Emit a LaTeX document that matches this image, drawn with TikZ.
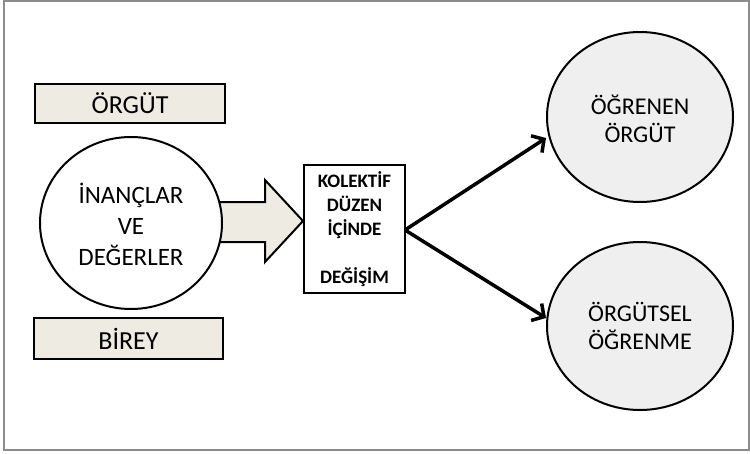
\documentclass[tikz,border=0pt]{standalone}
\usepackage{fontspec}
\setmainfont{Carlito}
\usetikzlibrary{shapes.geometric,arrows.meta}
\definecolor{beige}{HTML}{EEEBE3}
\definecolor{lightgray}{HTML}{EFEFEF}
\definecolor{framegray}{HTML}{8C8C8C}
\begin{document}
\begin{tikzpicture}[x=1pt,y=-1pt,
  labelbox/.style={draw=black,line width=2pt,fill=beige,inner sep=0pt,
    font=\fontsize{26}{30}\selectfont},
  bigtext/.style={align=center,font=\fontsize{24}{28}\selectfont},
  roundnode/.style={ellipse,draw=black,line width=2pt,inner sep=0pt},
  flow/.style={line width=3.5pt,-{Straight Barb[length=9pt,width=20pt]}}]
\useasboundingbox (0,0) rectangle (750,453);
% outer frame
\draw[framegray,line width=1.5pt] (4,1) rectangle (749,450);

% wide block arrow into the centre box
\draw[line width=2pt,fill=beige,line join=miter]
  (212,202) -- (265,202) -- (265,180) -- (303,221) -- (265,262) -- (265,242) -- (212,242) -- cycle;

% left side
\node[labelbox,minimum width=190pt,minimum height=39pt] (org) at (130,103.5) {ÖRGÜT};
\node[roundnode,fill=white,minimum width=182pt,minimum height=172pt] (values) at (131,223) {};
\node[align=center,font=\fontsize{25}{31}\selectfont] (valuestext) at (131,224) {İNANÇLAR\\VE\\DEĞERLER};
\node[labelbox,minimum width=189pt,minimum height=41pt] (ind) at (128.5,338.5) {BİREY};

% centre box
\node[draw=black,line width=2pt,fill=white,minimum width=101pt,minimum height=128pt,inner sep=0pt] (change) at (354.5,229) {};
\node[align=center,font=\fontsize{19}{24}\selectfont\bfseries] (changetext) at (354.5,229.5)
  {KOLEKTİF\\DÜZEN\\İÇİNDE\\[24pt]DEĞİŞİM};

% right side
\node[roundnode,fill=lightgray,minimum width=186pt,minimum height=170pt] (lo) at (640,117) {};
\node[bigtext] (lotext) at (640,119) {ÖĞRENEN\\ÖRGÜT};
\node[roundnode,fill=lightgray,minimum width=186pt,minimum height=168pt] (ol) at (640,326) {};
\node[bigtext] (oltext) at (640,326) {ÖRGÜTSEL\\ÖĞRENME};

% branching connectors
\coordinate (fork) at (405,230);
\draw[flow] (fork) -- (lo.west |- 0,138) ;
\draw[flow] (fork) -- (ol.west |- 0,318);
\end{tikzpicture}
\end{document}
